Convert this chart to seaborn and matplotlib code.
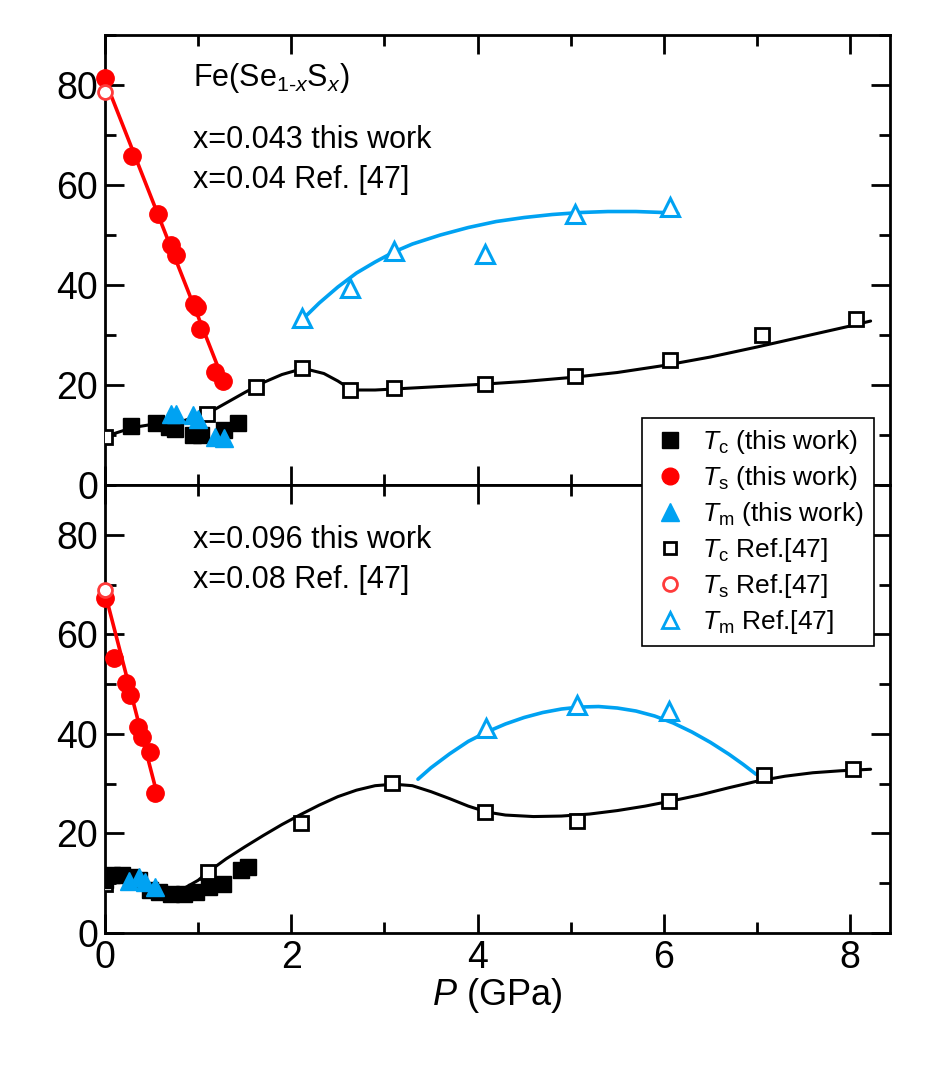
import numpy as np
import seaborn as sns
import matplotlib
matplotlib.use("Agg")
import matplotlib.pyplot as plt
from matplotlib.lines import Line2D
from matplotlib.ticker import MultipleLocator

# ---- top panel: x=0.043 (this work), x=0.04 (Ref. [47]) ----
top_ts_p = [0.0, 0.29, 0.57, 0.71, 0.76, 0.96, 0.99, 1.02, 1.18, 1.27]
top_ts_t = [81.4, 65.8, 54.2, 48.0, 46.0, 36.3, 35.7, 31.2, 22.7, 20.9]
top_ts_ref_p = [0.0]
top_ts_ref_t = [78.7]
top_tc_p = [0.28, 0.55, 0.69, 0.75, 0.94, 1.03, 1.28, 1.43]
top_tc_t = [11.8, 12.5, 11.7, 11.3, 10.0, 10.0, 11.0, 12.5]
top_tm_p = [0.71, 0.76, 0.94, 1.0, 1.18, 1.28]
top_tm_t = [14.3, 14.3, 14.0, 13.2, 9.7, 9.4]
top_tc_ref_p = [0.0, 1.10, 1.62, 2.12, 2.63, 3.10, 4.08, 5.05, 6.07, 7.05, 8.06]
top_tc_ref_t = [9.7, 14.3, 19.7, 23.5, 19.0, 19.5, 20.3, 21.8, 25.0, 30.1, 33.2]
top_tm_ref_p = [2.12, 2.63, 3.10, 4.08, 5.05, 6.07]
top_tm_ref_t = [33.5, 39.5, 46.9, 46.2, 54.3, 55.7]

# guide curves
top_red_line_p = [0.0, 1.27]
top_red_line_t = [81.0, 20.9]
top_black_line_p = [0.0, 0.3, 0.6, 0.85, 1.1, 1.3, 1.5, 1.7, 1.9, 2.05, 2.2, 2.35, 2.5, 2.6, 2.7,
                    2.9, 3.1, 3.5, 4.0, 4.5, 5.0, 5.5, 6.0, 6.5, 7.0, 7.5, 8.0, 8.22]
top_black_line_t = [9.7, 11.5, 12.4, 12.9, 14.3, 16.4, 18.5, 20.5, 22.1, 22.9, 23.0, 22.3, 20.8, 19.6, 19.0,
                    19.0, 19.2, 19.6, 20.1, 20.7, 21.5, 22.5, 23.9, 25.6, 27.6, 29.7, 31.8, 32.8]
top_blue_line_p = [2.13, 2.3, 2.5, 2.7, 2.9, 3.1, 3.3, 3.6, 3.9, 4.2, 4.5, 4.8, 5.1, 5.4, 5.7, 6.0, 6.15]
top_blue_line_t = [33.3, 36.4, 39.6, 42.4, 44.6, 46.6, 48.2, 50.0, 51.5, 52.7, 53.5, 54.1, 54.5, 54.7,
                   54.7, 54.5, 54.3]

# ---- bottom panel: x=0.096 (this work), x=0.08 (Ref. [47]) ----
bot_ts_p = [0.0, 0.10, 0.23, 0.27, 0.35, 0.40, 0.48, 0.54]
bot_ts_t = [67.3, 55.3, 50.3, 47.8, 41.4, 39.3, 36.3, 28.1]
bot_ts_ref_p = [0.0]
bot_ts_ref_t = [68.9]
bot_tc_p = [0.0, 0.08, 0.18, 0.28, 0.37, 0.48, 0.585, 0.71, 0.85, 0.98, 1.12, 1.27, 1.46, 1.53]
bot_tc_t = [10.6, 11.6, 11.6, 11.2, 10.6, 8.6, 8.3, 7.9, 7.9, 8.3, 9.3, 9.9, 12.6, 13.3]
bot_tm_p = [0.26, 0.36, 0.43, 0.54]
bot_tm_t = [10.5, 11.2, 10.3, 9.2]
bot_tc_ref_p = [0.0, 1.11, 2.10, 3.08, 4.08, 5.07, 6.06, 7.08, 8.03]
bot_tc_ref_t = [9.9, 12.3, 22.1, 30.1, 24.3, 22.5, 26.5, 31.7, 32.9]
bot_tm_ref_p = [4.09, 5.07, 6.06]
bot_tm_ref_t = [41.1, 45.9, 44.7]

bot_red_line_p = [0.01, 0.54]
bot_red_line_t = [67.6, 29.3]
bot_black_line_p = [0.0, 0.3, 0.6, 0.85, 1.0, 1.11, 1.3, 1.5, 1.7, 1.9, 2.1, 2.3, 2.5, 2.7, 2.9, 3.1,
                    3.3, 3.5, 3.7, 3.9, 4.1, 4.3, 4.6, 4.9, 5.2, 5.5, 5.8, 6.1, 6.4, 6.7, 7.0, 7.3,
                    7.6, 7.9, 8.22]
bot_black_line_t = [10.2, 10.6, 9.2, 9.0, 10.6, 12.3, 14.9, 17.3, 19.6, 21.8, 23.8, 25.7, 27.4, 28.7,
                    29.6, 29.9, 29.6, 28.4, 27.0, 25.5, 24.3, 23.7, 23.4, 23.5, 23.9, 24.6, 25.5,
                    26.6, 27.8, 29.2, 30.5, 31.5, 32.2, 32.6, 32.9]
bot_blue_line_p = [3.36, 3.5, 3.7, 3.9, 4.1, 4.3, 4.5, 4.7, 4.9, 5.1, 5.3, 5.5, 5.7, 5.9, 6.1, 6.3,
                   6.5, 6.7, 6.85, 6.99]
bot_blue_line_t = [30.9, 33.2, 36.0, 38.5, 40.4, 42.0, 43.3, 44.3, 45.0, 45.4, 45.5, 45.2, 44.6, 43.6,
                   42.2, 40.4, 38.3, 35.9, 33.9, 31.9]

RED = "#ff0000"
RED_OPEN = "#ff3b3b"
BLUE = "#00a2f2"

sns.set_style("ticks")
plt.rcParams["font.family"] = ["Liberation Sans", "DejaVu Sans"]
plt.rcParams["mathtext.fontset"] = "custom"
plt.rcParams["mathtext.rm"] = "Liberation Sans"
plt.rcParams["mathtext.it"] = "Liberation Sans:italic"
for k in ["text.color", "axes.labelcolor", "xtick.color", "ytick.color", "axes.edgecolor"]:
    plt.rcParams[k] = "black"

fig = plt.figure(figsize=(9.46, 10.65), dpi=100)
ax1 = fig.add_axes([0.111, 0.5446, 0.830, 0.4225])
ax2 = fig.add_axes([0.111, 0.1239, 0.830, 0.4207], sharex=ax1)


def draw_panel(ax, red_line, black_line, blue_line, ts, ts_ref, tc, tm, tc_ref, tm_ref):
    sns.lineplot(x=black_line[0], y=black_line[1], ax=ax, color="black", lw=2.2,
                 sort=False, estimator=None, zorder=2)
    sns.lineplot(x=blue_line[0], y=blue_line[1], ax=ax, color=BLUE, lw=2.6,
                 sort=False, estimator=None, zorder=2)
    sns.lineplot(x=red_line[0], y=red_line[1], ax=ax, color=RED, lw=2.6,
                 sort=False, estimator=None, zorder=2)
    ax.plot(tc_ref[0], tc_ref[1], ls="none", marker="s", ms=10, mfc="white",
            mec="black", mew=2, zorder=3)
    ax.plot(tm_ref[0], tm_ref[1], ls="none", marker="^", ms=13, mfc="white",
            mec=BLUE, mew=2.2, zorder=3)
    ax.plot(tc[0], tc[1], ls="none", marker="s", ms=11.5, color="black", zorder=4)
    ax.plot(tm[0], tm[1], ls="none", marker="^", ms=13, color=BLUE, zorder=5)
    ax.plot(ts[0], ts[1], ls="none", marker="o", ms=12.5, color=RED, zorder=6, clip_on=False)
    ax.plot(ts_ref[0], ts_ref[1], ls="none", marker="o", ms=10, mfc="white",
            mec=RED_OPEN, mew=2, zorder=7, clip_on=False)

    ax.set_xlim(0, 8.43)
    ax.set_ylim(0, 90)
    ax.xaxis.set_major_locator(MultipleLocator(2))
    ax.xaxis.set_minor_locator(MultipleLocator(1))
    ax.yaxis.set_major_locator(MultipleLocator(20))
    ax.yaxis.set_minor_locator(MultipleLocator(10))
    ax.tick_params(which="both", direction="in", top=True, right=True, width=2,
                   labelsize=27, pad=5)
    ax.tick_params(which="major", length=14)
    ax.tick_params(which="minor", length=8)
    for s in ax.spines.values():
        s.set_linewidth(2)
        s.set_visible(True)
    ax.set_xlabel("")
    ax.set_ylabel("")


draw_panel(ax1, (top_red_line_p, top_red_line_t), (top_black_line_p, top_black_line_t),
           (top_blue_line_p, top_blue_line_t), (top_ts_p, top_ts_t),
           (top_ts_ref_p, top_ts_ref_t), (top_tc_p, top_tc_t), (top_tm_p, top_tm_t),
           (top_tc_ref_p, top_tc_ref_t), (top_tm_ref_p, top_tm_ref_t))
draw_panel(ax2, (bot_red_line_p, bot_red_line_t), (bot_black_line_p, bot_black_line_t),
           (bot_blue_line_p, bot_blue_line_t), (bot_ts_p, bot_ts_t),
           (bot_ts_ref_p, bot_ts_ref_t), (bot_tc_p, bot_tc_t), (bot_tm_p, bot_tm_t),
           (bot_tc_ref_p, bot_tc_ref_t), (bot_tm_ref_p, bot_tm_ref_t))
plt.setp(ax1.get_xticklabels(), visible=False)

ax2.set_xlabel(r"$\mathit{P}$ (GPa)", fontsize=26, labelpad=0)

txt = dict(fontsize=22, ha="left", va="center")
ax1.text(0.95, 81.5, r"Fe(Se$_{\mathit{1\text{-}x}}$S$_{\mathit{x}}$)", **txt)
ax1.text(0.95, 69, "x=0.043 this work", **txt)
ax1.text(0.95, 61, "x=0.04 Ref. [47]", **txt)
ax2.text(0.95, 79, "x=0.096 this work", **txt)
ax2.text(0.95, 71, "x=0.08 Ref. [47]", **txt)

handles = [
    Line2D([], [], ls="none", marker="s", ms=11, color="black"),
    Line2D([], [], ls="none", marker="o", ms=12, color=RED),
    Line2D([], [], ls="none", marker="^", ms=13, color=BLUE),
    Line2D([], [], ls="none", marker="s", ms=9, mfc="white", mec="black", mew=2),
    Line2D([], [], ls="none", marker="o", ms=10, mfc="white", mec=RED_OPEN, mew=2),
    Line2D([], [], ls="none", marker="^", ms=12, mfc="white", mec=BLUE, mew=2),
]
labels = [r"$T_\mathrm{c}$ (this work)", r"$T_\mathrm{s}$ (this work)",
          r"$T_\mathrm{m}$ (this work)", r"$T_\mathrm{c}$ Ref.[47]",
          r"$T_\mathrm{s}$ Ref.[47]", r"$T_\mathrm{m}$ Ref.[47]"]
leg = fig.legend(handles, labels, loc="upper right", bbox_to_anchor=(0.9376, 0.6195),
                 fontsize=19, frameon=True, fancybox=False, edgecolor="black",
                 framealpha=1, borderpad=0.38, labelspacing=0.3, handletextpad=0.5,
                 handlelength=1.4)
leg.get_frame().set_linewidth(1.2)
leg.set_zorder(20)

fig.savefig("out.png", dpi=100)
